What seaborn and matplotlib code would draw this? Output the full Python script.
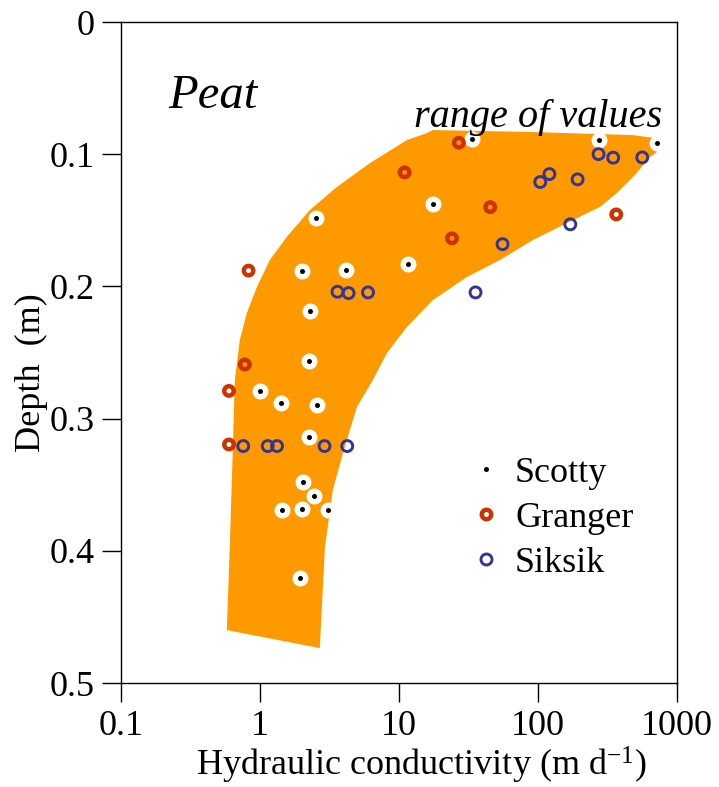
import matplotlib
matplotlib.use("Agg")
import matplotlib.pyplot as plt
import seaborn as sns
from matplotlib.lines import Line2D

# Scotty (white disc with black centre)
scotty_k = [2.53, 2.0, 4.15, 11.6, 17.6, 33.5, 275, 718, 2.29, 2.26, 1.0, 1.42,
            2.57, 2.26, 2.04, 2.45, 1.44, 2.0, 3.08, 1.94]
scotty_d = [0.148, 0.188, 0.1875, 0.183, 0.138, 0.0885, 0.089, 0.0915, 0.2186, 0.256,
            0.279, 0.288, 0.290, 0.314, 0.348, 0.3585, 0.369, 0.368, 0.369, 0.4206]

# Granger (red rings)
granger_k = [0.83, 0.78, 0.60, 0.60, 11.0, 27.0, 45.4, 24.1, 366]
granger_d = [0.188, 0.259, 0.279, 0.3195, 0.1137, 0.0913, 0.140, 0.1636, 0.1455]

# Siksik (blue rings)
siksik_k = [3.62, 4.35, 6.0, 0.76, 1.14, 1.33, 2.92, 4.25, 35.6, 55.7, 104, 121,
            193, 171, 273, 348, 563]
siksik_d = [0.204, 0.205, 0.2045, 0.3207, 0.3207, 0.3207, 0.3207, 0.3207, 0.2045,
            0.168, 0.121, 0.115, 0.119, 0.153, 0.0999, 0.1026, 0.1024]

# outline of the "range of values" envelope (top edge, right side, bottom, left side)
range_k = [17.56, 92.0, 482, 695, 780, 718, 640, 499, 370, 279, 162, 92.0, 53.3, 30.8,
           17.56, 11.42, 8.20, 6.50, 4.99, 3.96, 3.35, 2.94, 2.70,
           0.579, 0.608, 0.640, 0.661, 0.718, 0.806, 0.952, 1.18, 1.56, 2.29, 3.58,
           6.19, 11.42, 15.9]
range_d = [0.0817, 0.0832, 0.0855, 0.0877, 0.0923, 0.0983, 0.1021, 0.1157, 0.1293,
           0.1399, 0.1520, 0.1649, 0.1800, 0.1929, 0.2103, 0.2307, 0.2504, 0.2708,
           0.2912, 0.3260, 0.3540, 0.3971, 0.4735,
           0.4599, 0.3971, 0.3215, 0.2708, 0.2405, 0.2201, 0.2005, 0.1800, 0.1626,
           0.1422, 0.1248, 0.1067, 0.0893, 0.0840]

ORANGE = "#FF9900"
RED = "#CC3300"
BLUE = "#333399"

sns.set_style("ticks")
plt.rcParams["font.family"] = ["Liberation Serif", "DejaVu Serif"]
plt.rcParams["mathtext.default"] = "regular"
plt.rcParams["text.color"] = "black"
plt.rcParams["axes.labelcolor"] = "black"

fig = plt.figure(figsize=(7.19, 7.87), dpi=100)
ax = fig.add_axes([0.168, 0.132, 0.7735, 0.840])

ax.fill(range_k, range_d, color=ORANGE, lw=0, zorder=1)

sns.scatterplot(x=scotty_k, y=scotty_d, ax=ax, s=132, color="white", linewidth=0, zorder=3)
sns.scatterplot(x=scotty_k, y=scotty_d, ax=ax, s=13, color="black", linewidth=0, zorder=4)
sns.scatterplot(x=granger_k, y=granger_d, ax=ax, s=46, facecolor="none", edgecolor=RED,
                linewidth=3.2, zorder=3)
sns.scatterplot(x=siksik_k, y=siksik_d, ax=ax, s=62, facecolor="none", edgecolor=BLUE,
                linewidth=2.1, zorder=3)

ax.set_xscale("log")
ax.set_xlim(0.1, 1000)
ax.set_ylim(0.5, 0)
ax.set_xticks([0.1, 1, 10, 100, 1000])
ax.set_xticklabels(["0.1", "1", "10", "100", "1000"])
ax.set_yticks([0, 0.1, 0.2, 0.3, 0.4, 0.5])
ax.set_yticklabels(["0", "0.1", "0.2", "0.3", "0.4", "0.5"])
ax.minorticks_off()
ax.tick_params(axis="both", length=14, width=1, labelsize=26, pad=5, colors="black")
for sp in ax.spines.values():
    sp.set_color("black")
    sp.set_linewidth(1)

ax.set_xlabel("Hydraulic conductivity (m d$^{-1}$)", fontsize=26, labelpad=2, x=0.54)
ax.set_ylabel("Depth  (m)", fontsize=26, labelpad=1, y=0.47)

ax.text(0.086, 0.87, "Peat", transform=ax.transAxes, fontsize=35, style="italic")
ax.text(0.527, 0.841, "range of values", transform=ax.transAxes, fontsize=29, style="italic")

handles = [
    Line2D([], [], ls="none", marker="o", ms=3.6, mfc="black", mec="black", mew=0),
    Line2D([], [], ls="none", marker="o", ms=6.8, mfc="white", mec=RED, mew=3.2),
    Line2D([], [], ls="none", marker="o", ms=7.9, mfc="white", mec=BLUE, mew=2.1),
]
ax.legend(handles, ["Scotty", "Granger", "Siksik"], loc="upper left",
          bbox_to_anchor=(0.592, 0.365), frameon=False, fontsize=26,
          handletextpad=0.2, labelspacing=0.33, handlelength=1.2, borderaxespad=0)

fig.savefig("out.png", dpi=100)
